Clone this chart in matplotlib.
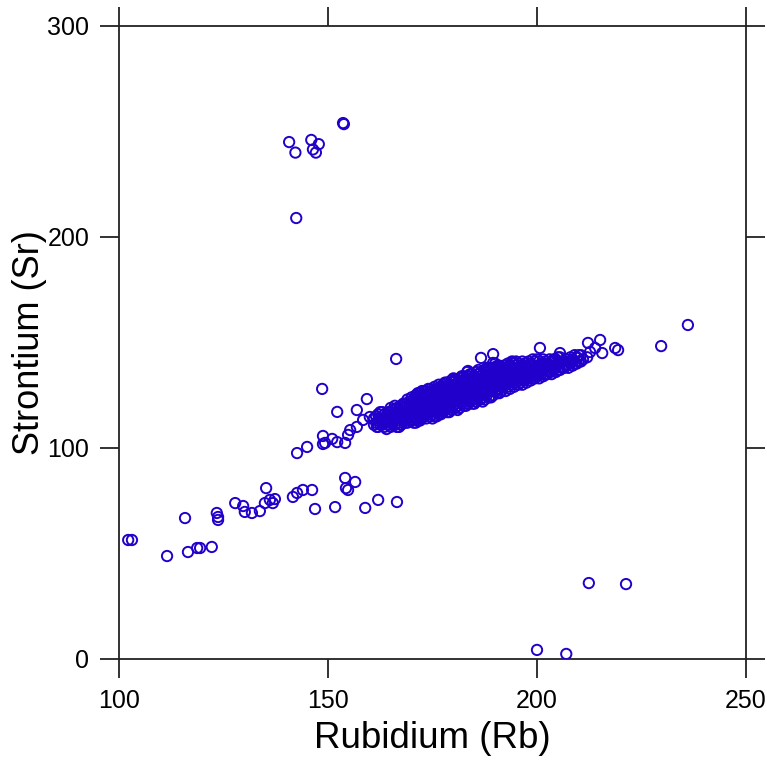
import numpy as np
import matplotlib
matplotlib.use("Agg")
import matplotlib.pyplot as plt

plt.rcParams['font.family'] = ['Liberation Sans', 'DejaVu Sans']

# outlying samples
rb_out = [140.7, 142.2, 146.0, 147.8, 146.4, 147.1, 153.6, 153.8, 142.4,
          212.4, 221.3, 200.0, 207.0,
          102.2, 103.1, 111.5, 115.8, 116.5, 118.7, 119.4, 122.2, 123.4, 123.7,
          123.7, 127.8, 129.7, 130.1, 131.8, 133.7, 135.2, 134.9, 136.1, 136.8,
          137.3, 141.6, 142.6, 144.0, 146.2, 146.9, 151.7, 154.1, 154.8, 156.5,
          154.3, 158.9, 162.0, 166.5, 142.6, 145.0, 149.3,
          166.3, 148.6, 159.3, 152.2, 156.9, 148.8, 151.0, 148.8, 152.2, 154.1,
          155.3, 154.8, 156.9, 158.4, 160.0, 161.7, 163.2, 164.8, 166.7, 167.9,
          179.9, 183.3,
          180.4, 183.5, 186.6, 189.5, 189.5, 194.3, 200.7, 212.2, 215.1, 212.7,
          215.6, 218.7, 219.4, 213.9, 229.7, 236.1, 209.6, 207.9, 205.5, 206.2]
sr_out = [245.0, 240.0, 246.0, 244.0, 241.5, 240.0, 254.0, 253.5, 209.0,
          36.0, 35.5, 4.3, 2.4,
          56.4, 56.4, 48.8, 66.8, 50.7, 52.6, 52.6, 53.1, 69.2, 67.3,
          65.9, 73.9, 72.5, 69.7, 69.2, 70.1, 81.0, 73.9, 75.4, 73.9,
          75.8, 76.8, 78.7, 80.1, 80.1, 71.1, 72.0, 85.8, 80.1, 83.9,
          81.0, 71.6, 75.4, 74.4, 97.6, 100.5, 102.4,
          142.2, 128.0, 123.2, 117.1, 118.0, 105.7, 104.3, 101.9, 102.8, 102.4,
          108.5, 106.2, 110.0, 113.3, 114.7, 110.0, 111.8, 113.3, 110.0, 116.6,
          131.3, 136.0,
          132.7, 136.5, 142.7, 144.5, 140.3, 140.8, 147.4, 149.8, 151.2, 145.5,
          145.0, 147.4, 146.4, 147.4, 148.3, 158.3, 142.7, 140.8, 145.0, 138.4]

# main dense band: Rb value -> Sr values read along the cluster
core_rb = [161, 162, 163, 164, 165, 166, 167, 168, 169, 170, 171, 172, 173,
           174, 175, 176, 177, 178, 179, 180, 181, 182, 183, 184, 185, 186,
           187, 188, 189, 190, 191, 192, 193, 194, 195, 196, 197, 198, 199,
           200, 201, 202, 203, 204, 205, 206, 207, 208, 209, 210, 211, 212]
core_sr = [
    [111, 114], [110, 113, 116], [111, 114, 117], [109, 112, 115],
    [110, 113, 116, 119], [111, 114, 117, 120], [110, 112, 115, 118],
    [113, 116, 119, 121], [112, 114, 117, 120, 123], [113, 116, 118, 121, 124],
    [112, 114, 117, 119, 122, 125], [113, 115, 118, 120, 123, 126],
    [115, 117, 120, 122, 125, 127], [116, 118, 121, 123, 126, 128],
    [114, 116, 119, 121, 124, 127], [115, 117, 120, 122, 125, 128],
    [116, 118, 120, 123, 126, 129], [118, 121, 124, 126, 129, 131],
    [117, 119, 122, 124, 127, 130], [120, 122, 125, 128, 131, 133],
    [118, 120, 123, 126, 128, 131], [121, 124, 126, 129, 132, 134],
    [120, 122, 124, 127, 130, 133], [122, 125, 128, 130, 133, 135],
    [121, 123, 126, 128, 131, 134], [124, 126, 129, 132, 135, 137],
    [122, 124, 127, 130, 132, 135], [125, 128, 130, 133, 136, 138],
    [124, 127, 129, 132, 135, 138], [127, 130, 133, 135, 138, 140],
    [126, 128, 131, 133, 136, 139], [129, 131, 134, 137, 139],
    [129, 132, 135, 137, 140], [130, 133, 135, 138, 141],
    [131, 133, 136, 139, 141], [131, 134, 137, 139], [132, 135, 137, 140],
    [133, 135, 138, 141], [133, 136, 139, 142], [134, 137, 139, 142],
    [135, 137, 140], [135, 138, 141], [136, 139, 142], [137, 139, 142],
    [137, 140, 143], [138, 141], [139, 142], [140, 143], [140, 144],
    [141, 144], [142], [143]]

# second pass over the band, between the columns above
core2_rb = [161.5, 162.5, 163.5, 164.5, 165.5, 166.5, 167.5, 168.5, 169.5,
            170.5, 171.5, 172.5, 173.5, 174.5, 175.5, 176.5, 177.5, 178.5,
            179.5, 180.5, 181.5, 182.5, 183.5, 184.5, 185.5, 186.5, 187.5,
            188.5, 189.5, 190.5, 191.5, 192.5, 193.5, 194.5, 195.5, 196.5,
            197.5, 198.5, 199.5, 200.5, 201.5, 202.5, 203.5, 204.5, 205.5,
            206.5, 207.5, 208.5, 209.5, 210.5]
core2_sr = [
    [112, 115], [111, 114, 117], [110, 113, 116], [111, 114, 117],
    [112, 115, 118], [110, 113, 116, 119], [111, 114, 117, 120],
    [112, 115, 118, 121], [113, 116, 119, 122], [112, 115, 117, 120, 123],
    [113, 116, 118, 121, 124, 126], [114, 117, 119, 122, 125, 127],
    [114, 116, 119, 121, 124, 127], [115, 117, 120, 122, 125, 128],
    [115, 118, 120, 123, 126, 129], [116, 119, 121, 124, 127, 130],
    [117, 119, 122, 125, 128, 130], [117, 120, 123, 125, 128, 131],
    [118, 121, 123, 126, 129, 132], [119, 121, 124, 127, 130, 132],
    [119, 122, 125, 127, 130, 133], [120, 123, 125, 128, 131, 134],
    [121, 123, 126, 129, 132, 134], [121, 124, 127, 129, 132, 135],
    [122, 125, 127, 130, 133, 136], [123, 125, 128, 131, 134, 136],
    [123, 126, 129, 131, 134, 137], [124, 127, 129, 132, 135, 138],
    [125, 128, 130, 133, 136, 138], [126, 128, 131, 134, 137, 139],
    [127, 129, 132, 135, 137], [127, 130, 133, 135, 138],
    [128, 131, 133, 136, 139], [129, 131, 134, 137, 140],
    [130, 132, 135, 138, 140], [130, 133, 136, 138, 141],
    [131, 134, 136, 139], [132, 134, 137, 140], [133, 135, 138, 141],
    [133, 136, 139, 141], [134, 137, 139, 142], [135, 137, 140],
    [135, 138, 141], [136, 139, 142], [137, 140, 143], [138, 141],
    [138, 141], [139, 142], [140, 143], [141, 144]]

xticks = [100, 150, 200, 250]
yticks = [0, 100, 200, 300]

rb = list(rb_out)
sr = list(sr_out)
for xs, yss in ((core_rb, core_sr), (core2_rb, core2_sr)):
    for x, ys in zip(xs, yss):
        for y in ys:
            rb.append(x)
            sr.append(y)

fig = plt.figure(figsize=(7.67, 7.63), dpi=100)
ax = fig.add_axes([119 / 767, 1 - 659 / 763, 627 / 767, 633 / 763])

ax.scatter(rb, sr, s=55, facecolors='none', edgecolors='#2200cc', linewidths=1.4,
           zorder=3)

ax.set_xlim(100, 250)
ax.set_ylim(0, 300)
ax.set_xticks(xticks)
ax.set_yticks(yticks)
ax.tick_params(axis='both', which='both', direction='out', length=13.5, width=1.3,
               color='#222222', labelsize=18, top=True, right=True,
               labeltop=False, labelright=False)
ax.tick_params(axis='x', pad=8)
ax.tick_params(axis='y', pad=8)
for sp in ax.spines.values():
    sp.set_linewidth(1.3)
    sp.set_color('#222222')

ax.set_xlabel('Rubidium (Rb)', fontsize=26.5, labelpad=6)
ax.set_ylabel('Strontium (Sr)', fontsize=26, labelpad=0)

fig.savefig('out.png', dpi=100)
